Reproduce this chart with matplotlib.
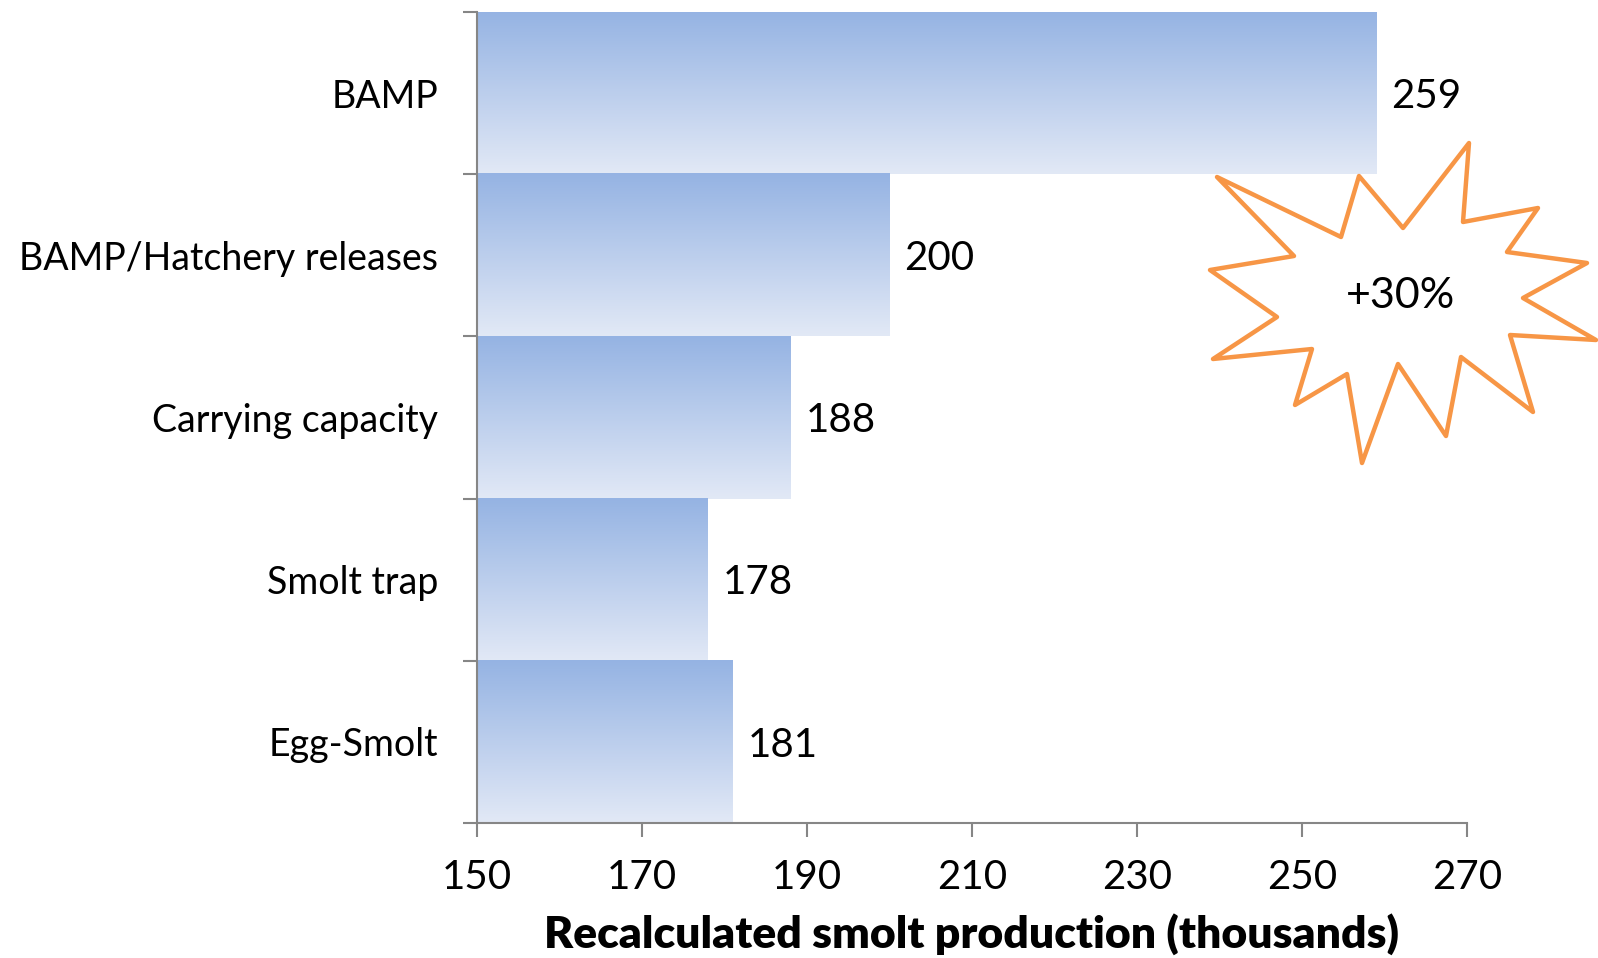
import matplotlib
matplotlib.use('Agg')
import matplotlib.pyplot as plt
import numpy as np
from matplotlib.colors import to_rgb
from matplotlib.patches import Polygon

# data
categories = ['BAMP', 'BAMP/Hatchery releases', 'Carrying capacity', 'Smolt trap', 'Egg-Smolt']
values = [259, 200, 188, 178, 181]
value_labels = ['259', '200', '188', '178', '181']
x_ticks = [150, 170, 190, 210, 230, 250, 270]
callout_text = '+30%'

# starburst outline (pixel coords in the 1598x958 figure)
star_px = [(1217, 177), (1341, 237), (1359, 176), (1403, 228), (1469, 143), (1463, 222),
           (1538, 208), (1507, 252), (1587, 263), (1523, 298), (1596, 340), (1510, 335),
           (1533, 412), (1461, 357), (1446, 436), (1398, 364), (1362, 463), (1347, 374),
           (1295, 405), (1312, 349), (1213, 359), (1277, 317), (1210, 270), (1294, 256)]

plt.rcParams['font.family'] = ['Lato', 'DejaVu Sans']
grey = '#868686'
top_col = np.array(to_rgb('#95b3e3'))
bot_col = np.array(to_rgb('#e2e9f6'))

W, H = 1598, 958
fig = plt.figure(figsize=(W / 100, H / 100), dpi=100)
ax = fig.add_axes([477 / W, 1 - 823 / H, (1467 - 477) / W, (823 - 12) / H])

t = np.linspace(0, 1, 256)[:, None, None]
grad = top_col * (1 - t) + bot_col * t

for i, v in enumerate(values):
    ax.imshow(grad, extent=[150, v, i + 0.5, i - 0.5], aspect='auto',
              interpolation='bilinear', zorder=2)
    ax.text(v + 1.8, i + 0.02, value_labels[i], va='center', ha='left', fontsize=29,
            color='black')

ax.set_xlim(150, 270)
ax.set_ylim(4.5, -0.5)

ax.set_xticks(x_ticks)
ax.set_xticklabels([str(x) for x in x_ticks], fontsize=29)
ax.set_yticks(np.arange(-0.5, 5, 1))
ax.set_yticklabels([])
ax.set_yticks(range(len(categories)), minor=True)
ax.set_yticklabels(categories, minor=True, fontsize=27)
ax.tick_params(axis='y', which='minor', length=0, pad=28)
ax.tick_params(axis='y', which='major', length=10, width=1.5, color=grey, direction='out')
ax.tick_params(axis='x', length=10, width=1.5, color=grey, direction='out', pad=16)

for s in ['top', 'right']:
    ax.spines[s].set_visible(False)
for s in ['left', 'bottom']:
    ax.spines[s].set_color(grey)
    ax.spines[s].set_linewidth(1.5)
    ax.spines[s].set_zorder(3)

ax.set_xlabel('Recalculated smolt production (thousands)', fontsize=32,
              fontweight='heavy', labelpad=12)

# starburst callout
star = Polygon([(x / W, 1 - y / H) for x, y in star_px], closed=True,
               transform=fig.transFigure, facecolor='white', edgecolor='#f79646',
               linewidth=3.2, joinstyle='round', zorder=5)
fig.patches.append(star)
fig.text(1401 / W, 1 - 296 / H, callout_text, ha='center', va='center', fontsize=31,
         zorder=6)

fig.savefig('out.png', dpi=100)
